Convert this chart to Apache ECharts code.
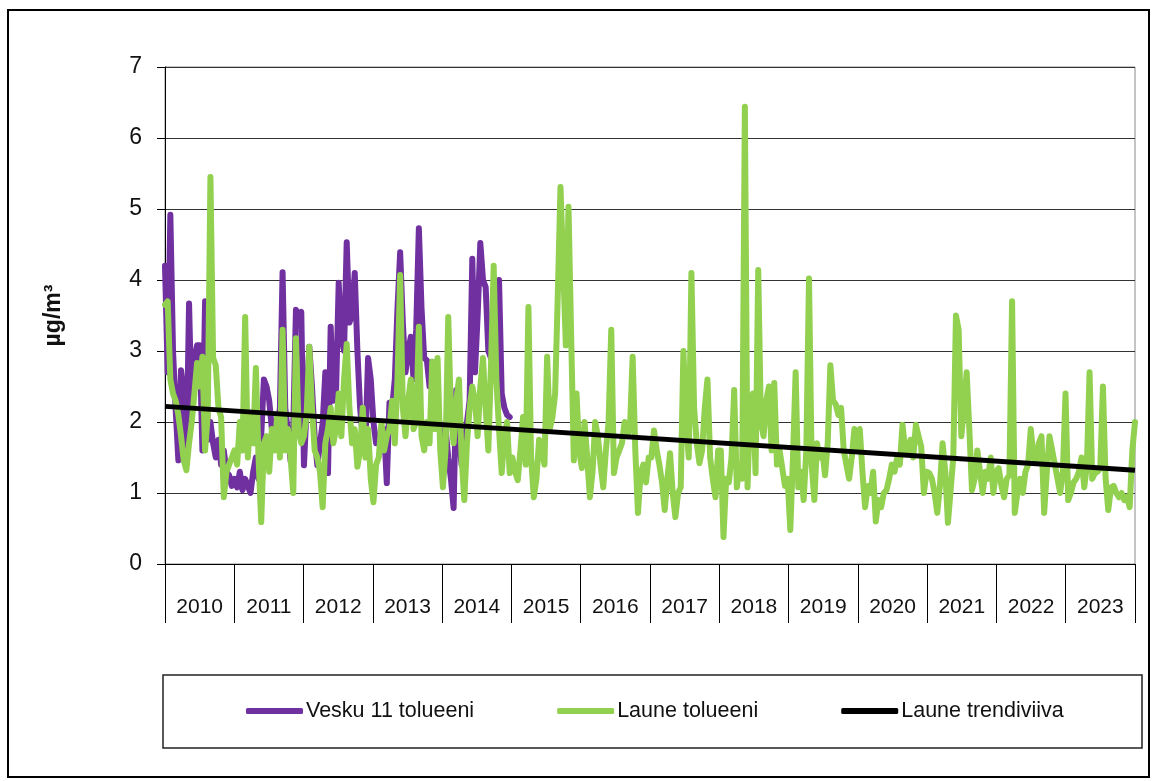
<!DOCTYPE html>
<html><head><meta charset="utf-8">
<script src="https://cdn.jsdelivr.net/npm/echarts@6/dist/echarts.min.js"></script>
<style>html,body{margin:0;padding:0;background:#fff}#c{width:1157px;height:781px}</style>
</head><body><div id="c"></div>
<script>
const years = ['2010','2011','2012','2013','2014','2015','2016','2017','2018','2019','2020','2021','2022','2023'];
const samplesPerYear = 26;

const laune2010 = [3.65,3.7,2.6,2.4,2.3,2.1,1.8,1.46,1.32,1.7,2.0,2.4,2.83,2.5,2.92,1.6,2.1,5.45,2.9,2.8,2.2,2.07,0.94,1.3,1.4,1.5];
const laune2011 = [1.6,1.4,2.0,1.6,3.48,1.5,2.1,1.7,2.76,1.5,0.59,1.7,1.8,1.3,1.9,1.6,2.1,1.5,3.3,1.6,1.9,1.5,1.0,3.18,1.9,1.7];
const laune2012 = [1.8,2.1,3.06,2.2,1.6,1.5,1.3,0.8,1.7,1.9,2.2,1.7,1.9,2.4,1.8,2.6,3.1,2.2,1.7,1.9,1.37,1.6,2.2,1.5,1.9,1.2];
const laune2013 = [0.87,1.4,1.5,2.0,1.6,1.8,1.9,2.3,1.7,2.6,4.07,2.2,1.8,2.3,2.6,1.9,2.0,3.34,1.8,1.6,2.0,1.7,2.85,1.9,2.9,1.6];
const laune2014 = [1.08,1.6,3.48,2.1,1.7,2.3,2.6,1.5,0.9,1.7,2.2,2.5,2.3,1.8,2.5,2.9,2.2,1.6,2.8,4.2,2.6,1.9,1.28,1.8,2.0,1.28];
const laune2015 = [1.5,1.3,1.18,1.6,2.07,1.4,3.62,1.5,0.94,1.2,1.75,1.6,1.4,2.92,1.9,2.07,2.4,3.8,5.31,4.2,3.08,5.03,3.2,1.46,2.4,1.6];
const laune2016 = [1.35,2.0,1.5,0.94,1.3,2.0,1.8,1.4,1.08,1.6,2.0,3.3,1.28,1.5,1.6,1.7,2.0,1.8,1.9,2.92,1.6,0.72,1.28,1.4,1.15,1.5];
const laune2017 = [1.5,1.88,1.6,1.4,1.15,0.76,1.2,1.56,1.0,0.66,1.0,1.08,3.0,2.0,1.5,4.1,2.2,1.7,1.42,1.6,2.2,2.6,1.5,1.2,0.94,1.6];
const laune2018 = [1.6,0.38,1.2,1.15,1.5,2.45,1.08,1.4,1.2,6.44,1.08,2.3,2.4,1.28,4.14,2.0,1.8,2.3,2.5,1.6,2.55,1.4,1.6,1.35,1.1,1.2];
const laune2019 = [0.48,1.5,2.7,1.08,1.3,0.9,1.6,4.02,1.4,0.9,1.7,1.5,1.6,1.25,1.7,2.8,2.3,2.25,2.1,2.2,1.6,1.4,1.2,1.5,1.9,1.6];
const laune2020 = [1.9,1.3,0.8,1.1,1.0,1.3,0.6,0.9,0.8,1.0,1.04,1.2,1.4,1.3,1.5,1.4,1.96,1.6,1.6,1.75,1.5,1.96,1.8,1.65,1.0,1.3];
const laune2021 = [1.28,1.2,1.0,0.72,1.1,1.7,1.3,0.58,1.04,1.5,3.5,3.3,1.8,2.2,2.7,1.9,1.04,1.2,1.6,1.3,1.0,1.3,1.2,1.5,1.0,1.3];
const laune2022 = [1.35,1.1,0.94,1.2,1.25,3.7,0.72,1.0,1.2,1.0,1.3,1.4,1.9,1.5,1.45,1.7,1.8,0.72,1.3,1.8,1.6,1.4,1.2,1.0,1.3,2.4];
const laune2023 = [0.9,1.0,1.15,1.2,1.3,1.5,1.08,1.4,2.7,1.2,1.28,1.3,1.35,2.5,1.2,0.76,1.08,1.1,1.0,0.94,1.0,0.9,0.95,0.8,1.6,2.0];

const vesku2010 = [4.2,2.7,4.92,3.0,2.17,1.46,2.73,2.4,1.4,3.67,2.1,2.9,3.08,3.08,1.6,3.7,1.75,2.0,1.7,1.5,1.75,1.4,1.6,1.3,1.25,1.1];
const vesku2011 = [1.2,1.08,1.3,1.04,1.2,1.1,1.0,1.3,1.5,1.2,1.8,2.6,2.5,2.3,1.9,1.75,1.9,2.2,4.11,2.2,1.85,1.45,1.9,3.58,3.5,3.55];
const vesku2012 = [1.39,2.2,3.06,2.5,1.8,1.39,1.7,1.98,2.7,1.28,3.34,2.3,2.4,3.96,3.2,3.0,4.53,3.4,3.5,4.1,3.0,2.2,1.8,1.7,2.9,2.6];
const vesku2013 = [2.0,1.7,1.8,1.6,1.9,1.14,2.27,2.2,2.6,3.6,4.39,3.4,2.7,3.0,3.2,2.6,3.3,4.73,3.6,2.9,2.87,2.5,2.85,2.3,2.1,1.95];
const vesku2014 = [1.6,1.9,1.5,1.2,0.79,2.45,1.8,1.4,1.6,2.0,2.3,4.3,2.7,3.5,4.52,4.0,3.9,3.0,2.9,3.3,3.6,4.0,2.4,2.2,2.1,2.07];

const trendStart = 2.22;
const trendEnd = 1.32;

const launeAll = [].concat(laune2010,laune2011,laune2012,laune2013,laune2014,laune2015,laune2016,
  laune2017,laune2018,laune2019,laune2020,laune2021,laune2022,laune2023);
const veskuAll = [].concat(vesku2010,vesku2011,vesku2012,vesku2013,vesku2014);
const samples = [];
years.forEach(y => { for (let k = 1; k <= samplesPerYear; k++) samples.push(y + '/' + k); });

const FONT = '"Liberation Sans", Arial, sans-serif';
const chart = echarts.init(document.getElementById('c'), null, {renderer: 'canvas'});
chart.setOption({
  animation: false,
  backgroundColor: '#fff',
  textStyle: {fontFamily: FONT},
  grid: {left: 165, top: 67, right: 22, bottom: 217, show: true, borderColor: '#8a8a8a', borderWidth: 1, backgroundColor: 'transparent'},
  graphic: [
    {type: 'rect', shape: {x: 8, y: 10, width: 1141, height: 767}, style: {fill: 'none', stroke: '#000', lineWidth: 2}, silent: true, z: 0},
    {type: 'rect', shape: {x: 163, y: 675, width: 979, height: 73}, style: {fill: 'none', stroke: '#222', lineWidth: 1.5}, silent: true, z: 0}
  ],
  legend: {
    left: 246, top: 700, padding: 0, itemGap: 83, itemWidth: 57, itemHeight: 6,
    icon: 'roundRect',
    textStyle: {fontSize: 21.5, color: '#111', fontFamily: FONT, padding: [0, 0, 0, -2]},
    data: ['Vesku 11 tolueeni', 'Laune tolueeni', 'Laune trendiviiva']
  },
  xAxis: [
    {type: 'category', data: years, boundaryGap: true, position: 'bottom',
     axisLine: {show: true, lineStyle: {color: '#000', width: 1}},
     axisTick: {show: true, length: 59, lineStyle: {color: '#000', width: 1}},
     axisLabel: {interval: 0, margin: 33, fontSize: 21, color: '#111', fontFamily: FONT},
     splitLine: {show: false}},
    {type: 'category', data: samples, boundaryGap: false, show: false},
    {type: 'value', min: 0, max: years.length, show: false}
  ],
  yAxis: {
    type: 'value', min: 0, max: 7, interval: 1,
    axisLine: {show: true, lineStyle: {color: '#000', width: 1}},
    axisTick: {show: true, length: 8, lineStyle: {color: '#000'}},
    axisLabel: {margin: 23, fontSize: 23, color: '#111', fontFamily: FONT},
    splitLine: {show: true, lineStyle: {color: '#333', width: 1}},
    name: 'µg/m³', nameLocation: 'middle', nameGap: 100, nameRotate: 90,
    nameTextStyle: {fontWeight: 'bold', fontSize: 23, color: '#111', fontFamily: FONT}
  },
  series: [
    {name: 'Vesku 11 tolueeni', type: 'line', xAxisIndex: 1, data: veskuAll, symbol: 'none', z: 2,
     itemStyle: {color: '#7030A0'}, lineStyle: {color: '#7030A0', width: 6, cap: 'round', join: 'round'}},
    {name: 'Laune tolueeni', type: 'line', xAxisIndex: 1, data: launeAll, symbol: 'none', z: 3,
     itemStyle: {color: '#92D050'}, lineStyle: {color: '#92D050', width: 6, cap: 'round', join: 'round'}},
    {name: 'Laune trendiviiva', type: 'line', xAxisIndex: 2, data: [[0, trendStart], [years.length, trendEnd]], symbol: 'none', z: 4,
     itemStyle: {color: '#000'}, lineStyle: {color: '#000', width: 5, cap: 'butt'}}
  ]
});
</script></body></html>
